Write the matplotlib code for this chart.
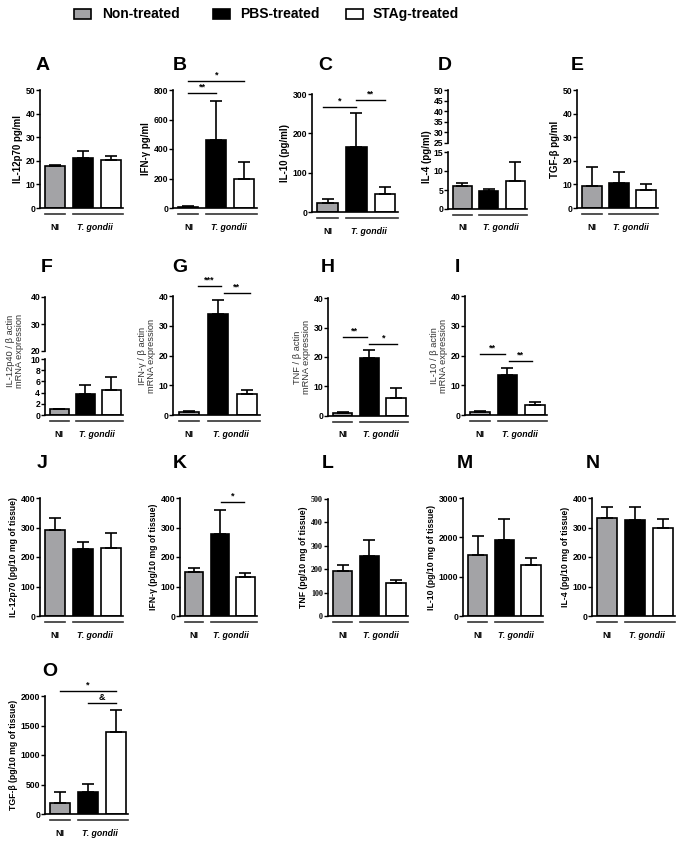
import numpy as np
import matplotlib.pyplot as plt
from matplotlib.patches import Rectangle
from matplotlib.transforms import blended_transform_factory, ScaledTranslation

plt.rcParams['font.family'] = ['Liberation Sans', 'DejaVu Sans']
plt.rcParams['font.weight'] = 'bold'
plt.rcParams['axes.labelweight'] = 'bold'

groups = ['Non-treated', 'PBS-treated', 'STAg-treated']
colors = ['#a3a3a6', 'black', 'white']

# ---- data (mean, upper SEM) ----
a_mean = [18.0, 21.0, 20.3];   a_err = [0.3, 3.3, 1.7]
b_mean = [10, 460, 195];       b_err = [3, 265, 115]
c_mean = [22, 165, 46];        c_err = [11, 87, 18]
d_mean = [6.0, 4.8, 7.5];      d_err = [0.9, 0.5, 5.0]
e_mean = [9.3, 10.8, 7.7];     e_err = [8.0, 4.5, 2.5]
f_mean = [1.0, 3.8, 4.5];      f_err = [0.1, 1.6, 2.2]
g_mean = [1.0, 34.0, 7.1];     g_err = [0.2, 4.5, 1.4]
h_mean = [1.0, 19.6, 6.0];     h_err = [0.2, 2.7, 3.6]
i_mean = [1.0, 13.6, 3.5];     i_err = [0.2, 2.1, 0.9]
j_mean = [292, 228, 232];      j_err = [40, 24, 48]
k_mean = [148, 278, 133];      k_err = [14, 82, 12]
l_mean = [192, 255, 140];      l_err = [25, 70, 13]
m_mean = [1540, 1940, 1300];   m_err = [500, 520, 180]
n_mean = [332, 326, 297];      n_err = [38, 42, 33]
o_mean = [185, 365, 1390];     o_err = [180, 140, 365]

ylabels = {
    'A': 'IL-12p70 pg/ml', 'B': 'IFN-γ pg/ml', 'C': 'IL-10 (pg/ml)',
    'D': 'IL-4 (pg/ml)', 'E': 'TGF-β pg/ml',
    'F': 'IL-12p40 / β actin\nmRNA expression',
    'G': 'IFN-γ / β actin\nmRNA expression',
    'H': 'TNF / β actin\nmRNA expression',
    'I': 'IL-10 / β actin\nmRNA expression',
    'J': 'IL-12p70 (pg/10 mg of tissue)', 'K': 'IFN-γ (pg/10 mg of tissue)',
    'L': 'TNF (pg/10 mg of tissue)', 'M': 'IL-10 (pg/10 mg of tissue)',
    'N': 'IL-4 (pg/10 mg of tissue)', 'O': 'TGF-β (pg/10 mg of tissue)',
}
yticks = {
    'A': [0, 10, 20, 30, 40, 50], 'B': [0, 200, 400, 600, 800],
    'C': [0, 100, 200, 300], 'D': [0, 5, 10, 15], 'E': [0, 10, 20, 30, 40, 50],
    'F': [0, 2, 4, 6, 8, 10], 'G': [0, 10, 20, 30, 40], 'H': [0, 10, 20, 30, 40],
    'I': [0, 10, 20, 30, 40], 'J': [0, 100, 200, 300, 400],
    'K': [0, 100, 200, 300, 400], 'L': [0, 100, 200, 300, 400, 500],
    'M': [0, 1000, 2000, 3000], 'N': [0, 100, 200, 300, 400],
    'O': [0, 500, 1000, 1500, 2000],
}
upper_ticks = {'D': [25, 30, 35, 40, 45, 50], 'F': [20, 30, 40]}

# significance: (bar i, bar j, y, label)
sig = {
    'B': [(0, 1, 780, '**'), (0, 2, 860, '*')],
    'C': [(-0.15, 1, 267, '*'), (1, 2, 285, '**')],
    'G': [(0.3, 1.1, 43.4, '***'), (1.2, 2.1, 41.0, '**')],
    'H': [(0, 0.9, 26.8, '**'), (1, 2.05, 24.4, '*')],
    'I': [(0, 0.9, 20.5, '**'), (1.05, 1.9, 18.2, '**')],
    'K': [(1.05, 1.95, 386, '*')],
    'O': [(0, 2, 2085, '*'), (1, 2, 1880, '&')],
}

values = {
    'A': (a_mean, a_err), 'B': (b_mean, b_err), 'C': (c_mean, c_err),
    'D': (d_mean, d_err), 'E': (e_mean, e_err), 'F': (f_mean, f_err),
    'G': (g_mean, g_err), 'H': (h_mean, h_err), 'I': (i_mean, i_err),
    'J': (j_mean, j_err), 'K': (k_mean, k_err), 'L': (l_mean, l_err),
    'M': (m_mean, m_err), 'N': (n_mean, n_err), 'O': (o_mean, o_err),
}

# ---- layout in pixels: spine x, top y, bottom y, width, letter position ----
W, H = 683, 843
layout = {
    'A': (40, 90, 208, 83, 43, 65), 'B': (173, 90, 208, 84, 180, 65),
    'C': (312, 94, 212, 86, 325, 65), 'D': (448, 90, 209, 79, 445, 65),
    'E': (577, 90, 208, 81, 577, 65),
    'F': (45, 297, 415, 78, 47, 267), 'G': (173, 296, 415, 87, 180, 267),
    'H': (328, 298, 416, 80, 328, 267), 'I': (465, 296, 415, 82, 457, 267),
    'J': (40, 498, 616, 83, 42, 464), 'K': (180, 498, 616, 77, 180, 464),
    'L': (328, 499, 616, 80, 328, 464), 'M': (463, 498, 616, 80, 465, 464),
    'N': (592, 498, 616, 83, 593, 464),
    'O': (45, 696, 814, 83, 50, 672),
}
# broken axes: upper part px, lower part px, label (right edge x, centre y)
broken_px = {'D': ((90, 143), (152, 209), (432, 157)),
             'F': ((297, 351), (359, 415), (24, 351))}

fig = plt.figure(figsize=(W / 100, H / 100), dpi=100)


def add_ax(x, top, bot, w):
    return fig.add_axes([x / W, 1 - bot / H, w / W, (bot - top) / H])


def style(ax, bottom=True, serif=False):
    ax.spines['top'].set_visible(False)
    ax.spines['right'].set_visible(False)
    ax.spines['left'].set_linewidth(1.2)
    if bottom:
        ax.spines['bottom'].set_linewidth(1.2)
    else:
        ax.spines['bottom'].set_visible(False)
    ax.set_xticks([])
    ax.set_xlim(-0.55, 2.45)
    ax.tick_params(axis='y', length=3, width=1, pad=0.5, labelsize=6.2)
    if serif:
        for t in ax.get_yticklabels():
            t.set_fontfamily('Liberation Serif')
            t.set_fontsize(5.8)


for key in values:
    mean, err = values[key]
    x, top, bot, w, lx, ly = layout[key]
    if key in broken_px:
        (ut, ub), (lt, lb), _ = broken_px[key]
        axu = add_ax(x, ut, ub, w)
        ax = add_ax(x, lt, lb, w)
        up = upper_ticks[key]
        axu.set_ylim(up[0], up[-1])
        axu.set_yticks(up)
        style(axu, bottom=False)
    else:
        ax = add_ax(x, top, bot, w)

    tk = yticks[key]
    ax.set_ylim(0, tk[-1])
    ax.set_yticks(tk)
    style(ax, serif=(key == 'L'))

    pos = np.arange(3)
    ax.bar(pos, mean, width=0.72, color=colors, edgecolor='black',
           linewidth=1.2, zorder=2)
    ax.errorbar(pos, mean, yerr=[np.zeros(3), err], fmt='none',
                ecolor='black', elinewidth=1.2, capsize=4, capthick=1.2,
                zorder=3)

    thin = key in ('F', 'G', 'H', 'I')
    if key in 'ABCDE':
        fs = 7
    elif thin:
        fs = 6.7
    else:
        fs = 6.2
    lab = ax.set_ylabel(ylabels[key], fontsize=fs, labelpad=2,
                        fontweight='normal' if thin else 'bold',
                        linespacing=1.0)
    if thin:
        lab.set_color('#333333')
    if key in broken_px:
        (ut, ub), (lt, lb), (rx, cyp) = broken_px[key]
        ax.yaxis.set_label_coords((rx - x) / w, (lb - cyp) / (lb - lt))

    # group lines under the x axis
    tr1 = blended_transform_factory(ax.transData, ax.transAxes) + \
        ScaledTranslation(0, -6 / 100, fig.dpi_scale_trans)
    tr2 = blended_transform_factory(ax.transData, ax.transAxes) + \
        ScaledTranslation(0, -19 / 100, fig.dpi_scale_trans)
    ax.plot([-0.36, 0.36], [0, 0], transform=tr1, clip_on=False,
            color='#333333', lw=1.2)
    ax.plot([0.64, 2.45], [0, 0], transform=tr1, clip_on=False,
            color='#333333', lw=1.2)
    ax.text(0, 0, 'NI', transform=tr2, ha='center', va='center', fontsize=6.5)
    ax.text(1.45, 0, 'T. gondii', transform=tr2, ha='center', va='center',
            fontsize=6.3, fontstyle='italic')

    for i0, i1, yy, s in sig.get(key, []):
        ax.plot([i0, i1], [yy, yy], color='black', lw=1, clip_on=False)
        ax.text((i0 + i1) / 2, yy + tk[-1] * 0.01, s, ha='center',
                va='bottom', fontsize=6.5, clip_on=False)

    fig.text(lx / W, 1 - ly / H, key, fontsize=14, fontweight='bold',
             ha='center', va='center')

# legend across the top
legend_px = [(74, 102), (213, 240), (346, 373)]
for (px, tx), name, c in zip(legend_px, groups, colors):
    fig.patches.append(Rectangle((px / W, 1 - 19 / H), 17 / W, 10 / H,
                                 transform=fig.transFigure, facecolor=c,
                                 edgecolor='black', linewidth=1.2))
    fig.text(tx / W, 1 - 14 / H, name, fontsize=10, fontweight='bold',
             ha='left', va='center')

fig.savefig('out.png', dpi=100)
